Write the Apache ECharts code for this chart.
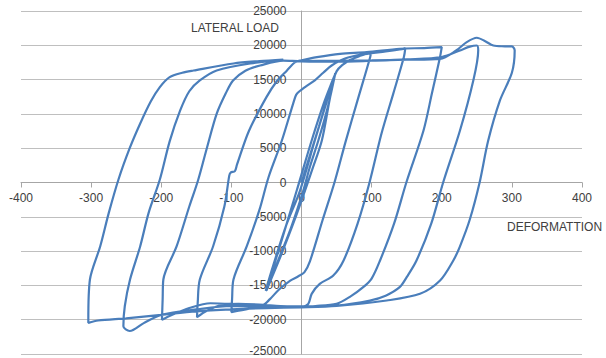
<!DOCTYPE html>
<html>
<head>
<meta charset="utf-8">
<script src="https://cdn.jsdelivr.net/npm/echarts@6/dist/echarts.min.js"></script>
<style>
  html, body { margin: 0; padding: 0; background: #ffffff; }
  #chart { width: 606px; height: 358px; }
</style>
</head>
<body>
<div id="chart"></div>
<script>
// Axis ranges and tick steps
const xTicks = { min: -400, max: 400, step: 100 };
const yTicks = { min: -25000, max: 25000, step: 5000 };

// Load path, branch by branch: [deformation, lateral load]
const firstLoad = [[0,0],[10,3300],[25,8200],[40,13300],[48,15800]];
const unload50a = [[48,15800],[40,12000],[29,6120],[15,1800],[5,-1170],[-10,-5500],[-30,-10800],[-45,-14500],[-50,-15750]];
const reload50a = [[-50,-15750],[-42,-13000],[-25,-7300],[-6.8,-1170],[14.5,6120],[32,11600],[44,14800],[48,15800]];
const unload50b = [[48,15800],[38,11200],[24,6120],[12,2300],[2.6,-1170],[-15,-6600],[-35,-11800],[-47,-15000],[-51,-15800]];
const reload50b = [[-51,-15800],[-44,-13300],[-22,-6300],[-2.1,-1170],[19,6120],[36,11800],[45,14800],[50,16200],[58,17100],[70,17900],[85,18500],[99,19000]];
const unload100 = [[99,19000],[98,18300],[80,12000],[63,6000],[47,0],[30,-5500],[12,-11500],[4,-13100],[-5,-13700],[-16,-14300],[-32,-15600],[-45,-17000],[-55,-17900],[-75,-18400],[-100,-18900]];
const reload100 = [[-100,-18900],[-99,-17000],[-97,-14140],[-78,-9290],[-60,-4000],[-47,770],[-28,6120],[-9,12440],[-6,13000],[5,13900],[19,14900],[31,16000],[43,17060],[62,18080],[90,18700],[120,19100],[140,19400],[148,19560]];
const unload150 = [[148,19560],[146,18300],[131,13000],[114,7100],[97,0],[80,-6000],[60,-11370],[45,-13600],[26,-14770],[14.5,-16230],[9.7,-17690],[0,-18100],[-30,-18000],[-60,-17800],[-90,-17700],[-115,-17900],[-135,-18700],[-149,-19640]];
const reload150 = [[-149,-19640],[-148,-17500],[-145,-14140],[-126,-9290],[-110,-3500],[-103,1000],[-101,1450],[-95,1650],[-92,2600],[-75,7500],[-50,12440],[-35,14800],[-21,16300],[-9,17540],[0,17800],[22,18270],[55,18760],[93,19000],[140,19500],[175,19600],[200,19730]];
const unload200 = [[200,19730],[197.5,18270],[186,13000],[174,7580],[149.5,0],[132,-6000],[112,-11370],[100,-14000],[88,-15260],[70,-16600],[50,-17690],[20,-18000],[0,-18050],[-50,-18000],[-100,-17700],[-130,-17600],[-160,-18300],[-185,-19300],[-199,-20000]];
const reload200 = [[-199,-20000],[-198,-17000],[-197,-14140],[-178,-9290],[-160,-3500],[-147.6,290],[-135,5000],[-121,10000],[-108,13000],[-97.6,14870],[-80,16300],[-59,17060],[-26,17780],[0,17650],[50,17600],[100,17750],[150,17950],[200,18300],[226,19250],[240,19800],[250,19970]];
const unload250 = [[250,19970],[252,19250],[245,14870],[226,7580],[202,0],[185,-6000],[164,-11370],[150,-13800],[140,-15260],[120,-16500],[97.7,-17200],[50,-17930],[0,-18100],[-50,-18100],[-100,-18000],[-150,-18500],[-200,-19300],[-225,-20500],[-245,-21650]];
const reload250 = [[-245,-21650],[-254,-20950],[-252,-18040],[-244.5,-14140],[-230,-9290],[-218,-4420],[-202,440],[-188,6000],[-173,10500],[-160,13300],[-145,14870],[-121,16330],[-73,17350],[-26,17780],[0,17700],[50,17750],[100,17800],[150,17900],[197.5,18030],[220,19200],[235.6,20460],[250,21100],[262,20600],[273.6,19970],[290,19850],[300,19830],[304,19250]];
const unload300 = [[304,19250],[300,16000],[283,11960],[266,6000],[254,0],[240,-5400],[226,-9300],[216.5,-11370],[197.6,-14290],[169,-16230],[121.5,-17200],[50,-18000],[0,-18200],[-50,-18300],[-100,-18500],[-150,-18800],[-200,-19300],[-250,-19800],[-290,-20120],[-304,-20460]];
const reload300 = [[-304,-20460],[-304,-19970],[-301.7,-14140],[-287,-9290],[-275,-4500],[-261,440],[-245,5000],[-230,8600],[-215,11800],[-202,13900],[-188,15350],[-170,16000],[-154,16330],[-97,17350],[-60,17700],[-26,17930]];

const branches = [firstLoad, unload50a, reload50a, unload50b, reload50b, unload100, reload100,
  unload150, reload150, unload200, reload200, unload250, reload250, unload300, reload300];

// Join the branches into one continuous path (shared end points written once)
const path = [];
branches.forEach((b, i) => { (i === 0 ? b : b.slice(1)).forEach(p => path.push(p)); });

const W = 606, H = 358;
const grid = { left: 21, right: 24, top: 11, bottom: 4 };
const plotW = W - grid.left - grid.right;
const plotH = H - grid.top - grid.bottom;

const labelFont = { fontFamily: 'Liberation Sans, Arial, sans-serif', fontSize: 12, color: '#404040' };
const plain = v => String(v);

const chart = echarts.init(document.getElementById('chart'), null, { renderer: 'svg' });
chart.setOption({
  animation: false,
  backgroundColor: '#ffffff',
  grid: Object.assign({ containLabel: false, outerBoundsMode: 'none' }, grid),
  xAxis: {
    type: 'value',
    position: 'bottom',
    // both axes cross through the middle of the plot, where the other axis is zero
    offset: -plotH * (0 - yTicks.min) / (yTicks.max - yTicks.min),
    min: xTicks.min, max: xTicks.max, interval: xTicks.step,
    axisLine: { onZero: false, lineStyle: { color: '#a6a6a6', width: 1 } },
    axisTick: { show: true, length: 5, inside: false, lineStyle: { color: '#a6a6a6' } },
    axisLabel: Object.assign({}, labelFont, { margin: 9, formatter: plain }),
    splitLine: { show: false }
  },
  yAxis: {
    type: 'value',
    position: 'left',
    offset: -plotW * (0 - xTicks.min) / (xTicks.max - xTicks.min),
    min: yTicks.min, max: yTicks.max, interval: yTicks.step,
    axisLine: { onZero: false, lineStyle: { color: '#a6a6a6', width: 1 } },
    axisTick: { show: false },
    axisLabel: Object.assign({}, labelFont, {
      margin: 15,
      // the lowest label sits on the bottom edge; lift it a little so it stays whole
      formatter: v => v === yTicks.min ? '{low|' + v + '}' : String(v),
      rich: { low: Object.assign({}, labelFont, { padding: [0, 0, 6, 0] }) }
    }),
    splitLine: { show: true, lineStyle: { color: '#bfbfbf', width: 1 } }
  },
  graphic: [
    { type: 'text', left: 191, top: 22, style: { text: 'LATERAL LOAD', fill: labelFont.color, font: '12px Liberation Sans, Arial, sans-serif' } },
    { type: 'text', left: 507, top: 221, style: { text: 'DEFORMATTION', fill: labelFont.color, font: '12px Liberation Sans, Arial, sans-serif' } }
  ],
  series: [{
    type: 'line',
    data: path,
    showSymbol: false,
    smooth: 0.3,
    lineStyle: { color: '#4a7ebb', width: 2.2 },
    z: 3
  }]
});
</script>
</body>
</html>
